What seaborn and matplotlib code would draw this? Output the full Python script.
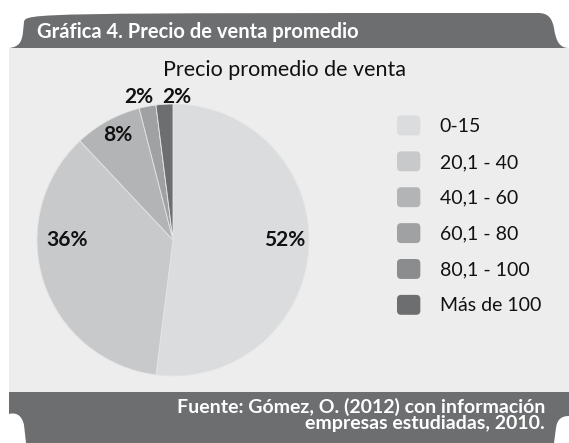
import matplotlib
matplotlib.use("Agg")
import numpy as np
import matplotlib.pyplot as plt
import seaborn as sns
from matplotlib.patches import Rectangle, PathPatch, FancyBboxPatch, Wedge
from matplotlib.path import Path
from matplotlib.legend_handler import HandlerPatch

# Data
CATEGORIES = ["0-15", "20,1 - 40", "40,1 - 60", "60,1 - 80", "80,1 - 100", "Más de 100"]
SHARES = [52, 36, 8, 2, 0, 2]
SLICE_COLORS = ["#dbdcdd", "#c8c9cb", "#b3b4b6", "#a0a1a3", "#8b8c8e", "#6d6e70"]

HEADER = "Gráfica 4. Precio de venta promedio"
TITLE = "Precio promedio de venta"
SOURCE = "Fuente: Gómez, O. (2012) con información\nempresas estudiadas, 2010."

# Layout (pixels, y measured from the top)
W, H = 569, 443
PANEL = "#ecedec"
DARK = "#6d6e70"
PIE_CX, PIE_CY, PIE_R = 173, 240, 136
# (radius, angle shift in degrees) for each percentage label
LABEL_OFFSETS = [(0.82, 3.6), (0.78, -18), (0.87, -1.2), (1.08, 2.6), None, (1.05, -5.2)]

sns.set_theme(style="white")
plt.rcParams["font.family"] = ["Lato", "DejaVu Sans"]
palette = sns.color_palette(SLICE_COLORS)


def fx(x):
    return x / W


def fy(y):
    return 1 - y / H


def px_path(points, codes):
    return Path([(fx(x), fy(y)) for x, y in points], codes)


fig = plt.figure(figsize=(W / 100, H / 100), dpi=100, facecolor="white")

# light panel behind the chart
fig.add_artist(Rectangle((fx(9), fy(392)), fx(569) - fx(9), fy(48) - fy(392),
                         transform=fig.transFigure, facecolor=PANEL,
                         edgecolor="none", zorder=0))

# header tab
M, L, C = Path.MOVETO, Path.LINETO, Path.CURVE4
tab_pts = [(9, 48), (19, 47), (22, 42), (23, 32), (24, 22), (25, 13), (36, 13),
           (538, 13), (548, 13), (552, 18), (554, 28), (556, 42), (560, 48),
           (569, 48), (9, 48)]
tab_codes = [M, C, C, C, L, C, C, L, C, C, C, C, C, C, Path.CLOSEPOLY]
fig.add_artist(PathPatch(px_path(tab_pts, tab_codes), transform=fig.transFigure,
                         facecolor=DARK, edgecolor="none", zorder=1))

# footer band with its rounded notches
fig.add_artist(Rectangle((fx(9), fy(443)), fx(569) - fx(9), fy(392) - fy(443),
                         transform=fig.transFigure, facecolor=DARK,
                         edgecolor="none", zorder=1))
notch_l = [(9, 443), (9, 414), (17, 412), (22, 416), (24, 425), (26, 443), (9, 443)]
notch_r = [(569, 443), (569, 416), (561, 416), (557, 420), (556, 428), (554, 443), (569, 443)]
notch_codes = [M, L, C, C, C, L, Path.CLOSEPOLY]
for pts in (notch_l, notch_r):
    fig.add_artist(PathPatch(px_path(pts, notch_codes), transform=fig.transFigure,
                             facecolor="white", edgecolor="none", zorder=2))

fig.text(fx(37), fy(38), HEADER, color="white", fontsize=14.5, fontweight="bold",
         ha="left", va="baseline", zorder=3)
fig.text(fx(545), fy(415), SOURCE, color="white", fontsize=14, fontweight="bold",
         ha="right", va="center", multialignment="right", linespacing=0.92, zorder=3)
fig.text(0.5, fy(70), TITLE, color="#111111", fontsize=15.5, ha="center",
         va="center", zorder=3)

# pie
ax = fig.add_axes([fx(PIE_CX - PIE_R), fy(PIE_CY + PIE_R), 2 * PIE_R / W, 2 * PIE_R / H])
ax.set_facecolor("none")
wedges, _ = ax.pie(SHARES, colors=palette, startangle=90, counterclock=False,
                   radius=1, wedgeprops=dict(edgecolor="#e4e5e4", linewidth=0.6))
ax.set_xlim(-1, 1)
ax.set_ylim(-1, 1)
ax.axis("off")

cum = np.cumsum(SHARES)
for share, c, off in zip(SHARES, cum, LABEL_OFFSETS):
    if share == 0 or off is None:
        continue
    r, shift = off
    mid = np.deg2rad(90 - 360 * (c - share / 2) / 100 + shift)
    ax.text(r * np.cos(mid), r * np.sin(mid), f"{share}%", ha="center", va="center",
            fontsize=15, fontweight="bold", color="#111111", clip_on=False)


class RoundedHandler(HandlerPatch):
    def create_artists(self, legend, orig_handle, xdescent, ydescent, width,
                       height, fontsize, trans):
        p = FancyBboxPatch((-xdescent, -ydescent), width, height,
                           boxstyle="round,pad=0,rounding_size=3",
                           facecolor=orig_handle.get_facecolor(),
                           edgecolor="none", transform=trans)
        return [p]


leg = fig.legend(wedges, CATEGORIES, loc="upper left",
                 bbox_to_anchor=(fx(397), fy(115.5)), frameon=False, fontsize=14,
                 handlelength=1.2, handleheight=1.2, handletextpad=1.0,
                 labelspacing=0.82, borderpad=0, borderaxespad=0,
                 handler_map={Wedge: RoundedHandler()})
for t in leg.get_texts():
    t.set_color("#111111")

fig.savefig("out.png", dpi=100, facecolor="white")
